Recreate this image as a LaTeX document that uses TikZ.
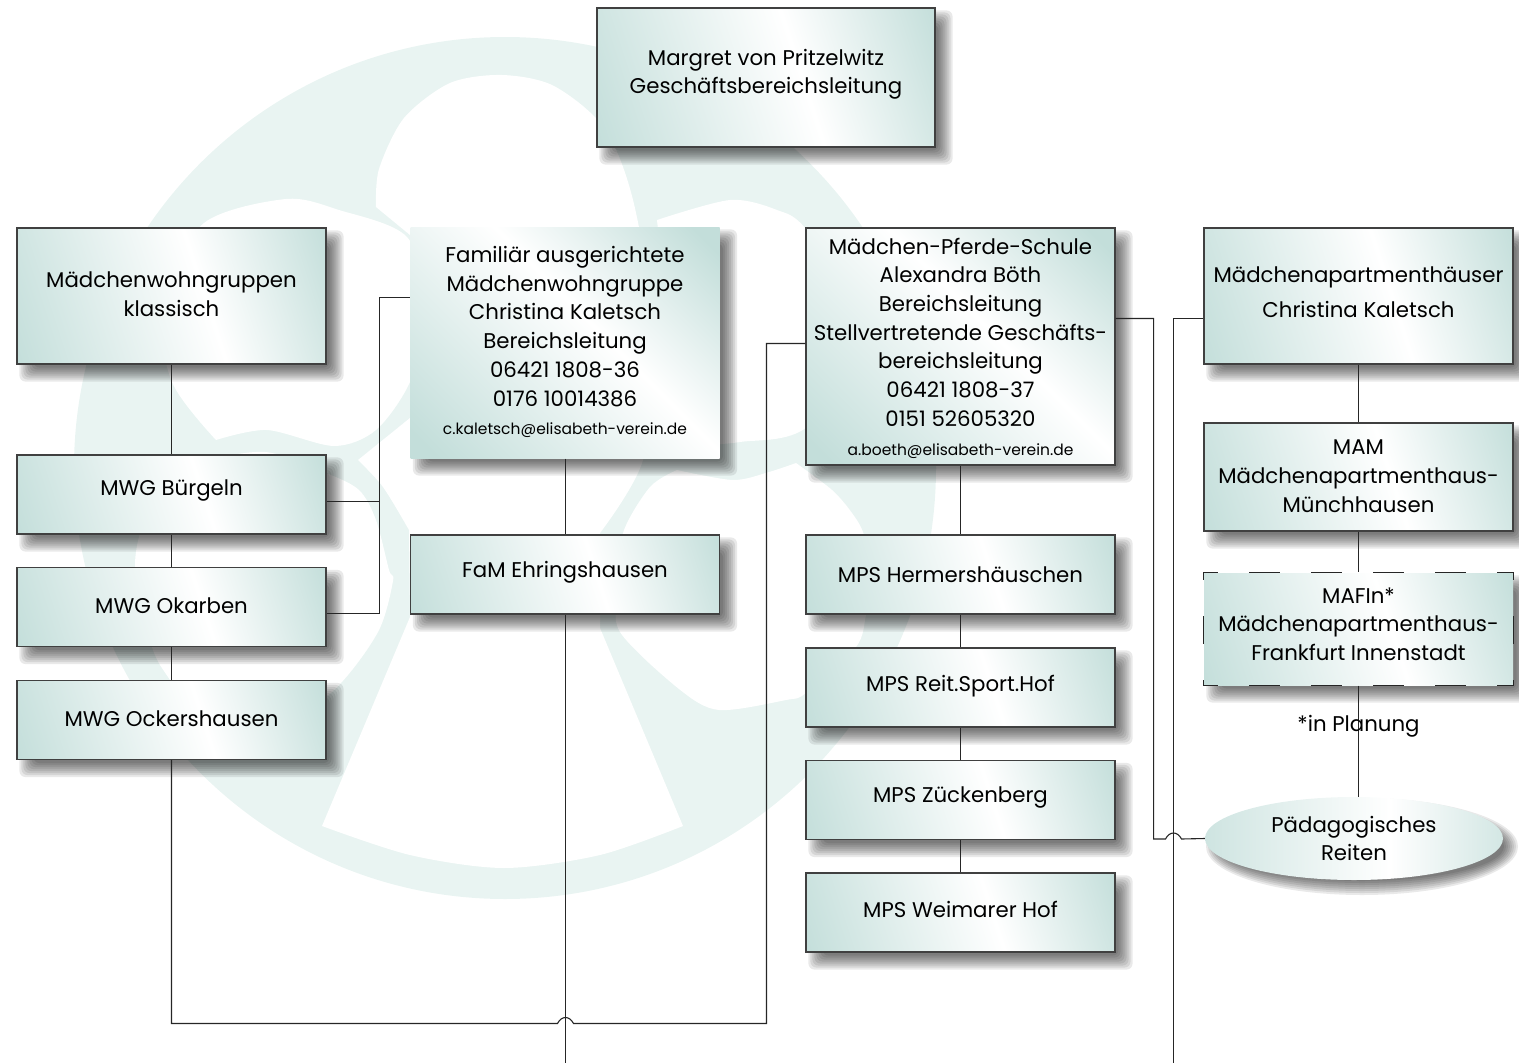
\documentclass[tikz,border=0pt]{standalone}
\usepackage{fontspec}
\setmainfont{Poppins}
\usetikzlibrary{shapes.geometric}
\definecolor{logoteal}{HTML}{E9F4F2}
\definecolor{boxteal}{HTML}{C3DEDA}
\pgfdeclarelayer{logo}
\pgfdeclarelayer{shadow}
\pgfsetlayers{logo,shadow,main}
\pgfdeclarehorizontalshading{tealblend}{100bp}{color(0bp)=(boxteal); color(18bp)=(boxteal); color(56bp)=(white); color(82bp)=(boxteal); color(100bp)=(boxteal)}
\begin{document}
\begin{tikzpicture}[x=1pt,y=-1pt,node distance=0pt,
  every node/.style={inner sep=0pt,align=center,font=\fontsize{21.3}{28.7}\selectfont},
  orgbox/.style={rectangle,draw=black!75,line width=1.1pt,minimum width=309pt,shade,shading=tealblend,shading angle=18},
  tallbox/.style={orgbox,shading angle=45},
  smallbox/.style={orgbox,minimum height=79pt,text depth=#1},
  smallbox/.default=12pt,
  link/.style={line width=1.1pt,black!85}]
  \useasboundingbox (0,0) rectangle (1519,1063);
  % logo behind everything
  \begin{pgfonlayer}{logo}
  \fill[logoteal] (505,468) circle [radius=431];
  \fill[white] plot[smooth] coordinates {(322,826) (410,855) (504,868) (600,855) (683,826)} -- (600,628) -- (600,533)
    -- plot[smooth] coordinates {(600,533) (643,460) (655,340) (634,204) (605,129) (554,86) (502,75) (450,83) (404,118) (379,169) (376,207)}
    -- (410,235) -- (425,320) -- (410,418) -- (358,460) -- plot[smooth] coordinates {(358,460) (383,487) (409,530)} -- (410,617) -- cycle;
  \fill[white] (216,440) -- plot[smooth] coordinates {(216,440) (172,382) (160,300) (204,223) (286,199) (339,210) (407,237) (430,310) (410,382) (376,430) (334,446) (267,430) (216,440)};
  \fill[white] (657,220) -- plot[smooth] coordinates {(657,220) (730,200) (777,210) (807,230) (880,330) (807,427) (740,442) (700,445)} -- (670,340) -- cycle;
  \fill[white] plot[smooth cycle] coordinates {(135,567) (150,510) (200,465) (265,452) (326,473) (359,490) (376,520) (389,570) (393,581) (378,632) (334,690) (260,742) (200,722) (170,680) (152,647)};
  \fill[white] plot[smooth] coordinates {(677,470) (733,480) (769,472) (796,463)} -- plot[smooth] coordinates {(796,463) (832,490) (852,513) (864,535) (872,580) (866,615) (856,647) (806,693) (786,700) (719,710) (679,689) (620,632) (618,590) (623,533) (650,487) (677,470)};
  \end{pgfonlayer}
  % top
  \node (margret) at (766,77.5) [orgbox,minimum width=338pt,minimum height=139pt,text depth=12pt] {Margret von Pritzelwitz\\Geschäftsbereichsleitung};
  % first column
  \node (wohn) at (171.5,296) [orgbox,minimum height=136pt,text depth=4pt] {Mädchenwohngruppen\\klassisch};
  \node (buergeln) [smallbox=14pt,below of=wohn,yshift=-198.5pt] {MWG Bürgeln};
  \node (okarben) [smallbox=2pt,below of=buergeln,yshift=-112.5pt] {MWG Okarben};
  \node (ockers) [smallbox=2pt,below of=okarben,yshift=-113pt] {MWG Ockershausen};
  % second column
  \node (fam) [tallbox,draw=none,minimum height=231pt,text depth=4pt,right of=wohn,xshift=393.5pt,yshift=-46.5pt]
    {Familiär ausgerichtete\\Mädchenwohngruppe\\Christina Kaletsch\\Bereichsleitung\\06421 1808-36\\0176 10014386\\{\fontsize{15.5}{24}\selectfont c.kaletsch@elisabeth-verein.de}};
  \node (famehr) [smallbox=10pt,below of=fam,yshift=-232pt] {FaM Ehringshausen};
  % third column
  \node (pferde) [tallbox,minimum height=237pt,text depth=0pt,right of=fam,xshift=395.5pt,yshift=-4pt]
    {Mädchen-Pferde-Schule\\Alexandra Böth\\Bereichsleitung\\Stellvertretende Geschäfts-\\bereichsleitung\\06421 1808-37\\0151 52605320\\{\fontsize{15.5}{24}\selectfont a.boeth@elisabeth-verein.de}};
  \node (herm) [smallbox=-7pt,below of=pferde,yshift=-228pt] {MPS Hermershäuschen};
  \node (reit) [smallbox=8pt,below of=herm,yshift=-113pt] {MPS Reit.Sport.Hof};
  \node (zueck) [smallbox=10pt,below of=reit,yshift=-112.5pt] {MPS Zückenberg};
  \node (weimar) [smallbox=6pt,below of=zueck,yshift=-112.5pt] {MPS Weimarer Hof};
  % fourth column
  \node (apart) [orgbox,minimum height=136pt,text depth=8pt,right of=wohn,xshift=1187pt] {Mädchenapartmenthäuser\\[7pt]Christina Kaletsch};
  \node (mam) [orgbox,minimum height=108pt,text depth=2pt,below of=apart,yshift=-181pt] {MAM\\Mädchenapartmenthaus-\\Münchhausen};
  \node (mafin) [orgbox,draw=none,minimum height=112pt,text depth=10pt,below of=mam,yshift=-152pt] {MAFIn*\\Mädchenapartmenthaus-\\Frankfurt Innenstadt};
  \draw[link,dash pattern=on 31pt off 31pt,dash phase=16pt] (mafin.north west) -- (mafin.north east);
  \draw[link,dash pattern=on 31pt off 31pt,dash phase=16pt] (mafin.south west) -- (mafin.south east);
  \draw[link,dash pattern=on 28pt off 36pt,dash phase=20pt] (mafin.north west) -- (mafin.south west);
  \draw[link,dash pattern=on 28pt off 36pt,dash phase=20pt] (mafin.north east) -- (mafin.south east);
  \node (reiten) [ellipse,shade,shading=tealblend,shading angle=0,minimum width=298pt,minimum height=83pt,text depth=0pt,below of=mafin,yshift=-209.5pt,xshift=-4.5pt] {Pädagogisches\\Reiten};
  % shadows go under the boxes
  \begin{pgfonlayer}{shadow}
  \foreach \e in {-7,-5,...,7} {
    \foreach \n in {margret,wohn,buergeln,okarben,ockers,fam,famehr,pferde,herm,reit,zueck,weimar,apart,mam,mafin}
      \fill[black,opacity=.085,rounded corners=6pt] ([xshift=10pt-\e pt,yshift=-10pt-\e pt]\n.south west) rectangle ([xshift=10pt+\e pt,yshift=-10pt+\e pt]\n.north east);
    \fill[black,opacity=.085] ([xshift=8pt,yshift=-8pt]reiten.center) ellipse [x radius=149+\e,y radius=41.5+\e];
  }
  \end{pgfonlayer}
  % free ends and line hops
  \coordinate (famend) at (565.5,1063);
  \coordinate (apartend) at (1173.5,1063);
  \coordinate (hoplow) at (565.5,1023.5);
  \coordinate (hopright) at (1173.5,839);
  % links
  \draw[link] (wohn) -- (buergeln);
  \draw[link] (buergeln) -- (okarben);
  \draw[link] (okarben) -- (ockers);
  \draw[link] (fam.south -| famend) -- (famehr.north -| famend);
  \draw[link] (famehr.south -| famend) -- (famend);
  \draw[link] (pferde) -- (herm);
  \draw[link] (herm) -- (reit);
  \draw[link] (reit) -- (zueck);
  \draw[link] (zueck) -- (weimar);
  \draw[link] (apart) -- (mam);
  \draw[link] (mam) -- (mafin);
  \draw[link] (mafin.south) -- (mafin.south |- reiten.north);
  \draw[link] ([yshift=-7pt]buergeln.east) -- +(53,0);
  \draw[link] ([yshift=-6.5pt]okarben.east) -- +(53,0) |- ([yshift=45pt]fam.west);
  \draw[link] (ockers.south) |- ([xshift=-8pt]hoplow) .. controls ([xshift=-4pt,yshift=8pt]hoplow) and ([xshift=4pt,yshift=8pt]hoplow) .. ([xshift=8pt]hoplow) -- +(193,0) |- ([yshift=3pt]pferde.west);
  \draw[link] ([yshift=28pt]pferde.east) -- +(38,0) |- ([xshift=-8pt]hopright) .. controls ([xshift=-4pt,yshift=8pt]hopright) and ([xshift=4pt,yshift=8pt]hopright) .. ([xshift=8pt]hopright) -- (reiten.west);
  \draw[link] ([yshift=-22.5pt]apart.west) -| (apartend);
  \node (planung) [below of=mafin,yshift=-97pt] {*in Planung};
\end{tikzpicture}
\end{document}
